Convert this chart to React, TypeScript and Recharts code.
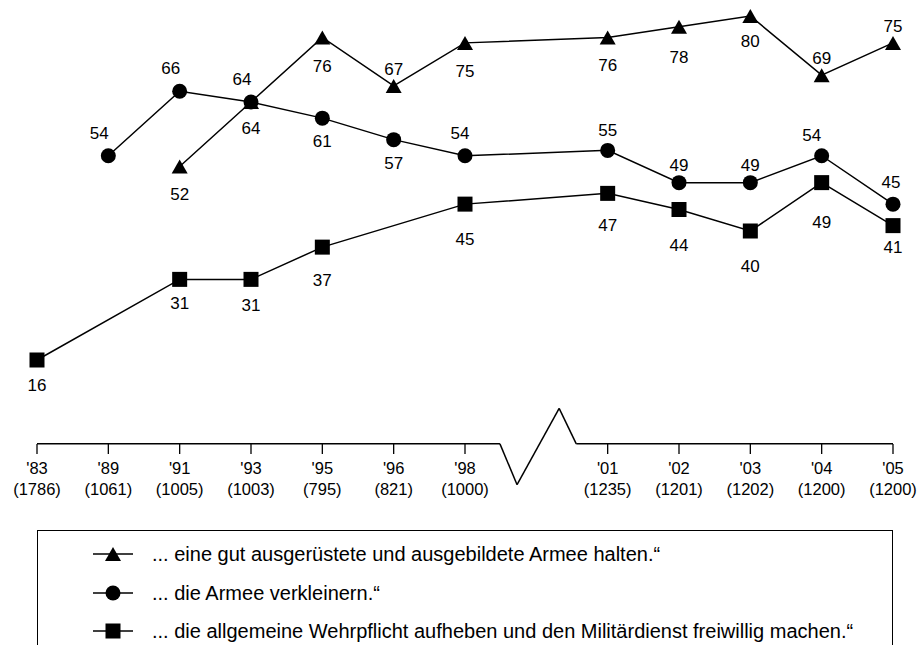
import React from "react";
import { LineChart, Line, XAxis, YAxis, ReferenceLine, LabelList } from "recharts";

// slot 7 is the axis break between '98 and '01
const yearLabels = ["'83", "'89", "'91", "'93", "'95", "'96", "'98", "", "'01", "'02", "'03", "'04", "'05"];
const sampleSizes = ["(1786)", "(1061)", "(1005)", "(1003)", "(795)", "(821)", "(1000)", "", "(1235)", "(1201)", "(1202)", "(1200)", "(1200)"];
const tickSlots = [0, 1, 2, 3, 4, 5, 6, 8, 9, 10, 11, 12];

const armeeHalten = [null, null, 52, 64, 76, 67, 75, null, 76, 78, 80, 69, 75];
const armeeVerkleinern = [null, 54, 66, 64, 61, 57, 54, null, 55, 49, 49, 54, 45];
const wehrpflichtAufheben = [16, null, 31, 31, 37, null, 45, null, 47, 44, 40, 49, 41];

const seriesNames = [
  "... eine gut ausgerüstete und ausgebildete Armee halten.“",
  "... die Armee verkleinern.“",
  "... die allgemeine Wehrpflicht aufheben und den Militärdienst freiwillig machen.“",
];

// label placement (px offsets from the point), kept apart from the values
const triangleDy = [0, 0, 27, 26, 28, -17, 28, 0, 27, 30, 25, -17, -17];
const circleDy = [0, -23, -23, -23, 23, 23, -23, 0, -20, -18, -18, -21, -22];
const circleDx = [0, -9, -9, -9, 0, 0, -5, 0, 0, 0, 0, -10, -2];
const squareDy = [25, 0, 24, 26, 33, 0, 35, 0, 32, 35, 35, 39, 21];

const FONT = "'Liberation Sans', Arial, sans-serif";
const AXIS_Y = 0.4;

type Shape = "triangle" | "circle" | "square";

const toRows = (vals: (number | null)[]) =>
  vals.map((v, i) => ({ slot: i, value: v })).filter((r) => r.value !== null);

const Marker = ({ shape, cx, cy }: { shape: Shape; cx: number; cy: number }) => {
  if (shape === "triangle")
    return <polygon points={`${cx},${cy - 7} ${cx - 8},${cy + 7} ${cx + 8},${cy + 7}`} fill="#000" />;
  if (shape === "circle") return <circle cx={cx} cy={cy} r={7.5} fill="#000" />;
  return <rect x={cx - 7.5} y={cy - 7.5} width={15} height={15} fill="#000" />;
};

const AxisTick = (props: any) => {
  const { x, y, payload } = props;
  const i = payload.value as number;
  return (
    <g>
      <line x1={x} x2={x} y1={y - 2} y2={y + 8} stroke="#000" strokeWidth={1.3} />
      <text x={x} y={y + 28} textAnchor="middle" fontSize={16.5} fontFamily={FONT} fill="#000">
        {yearLabels[i]}
      </text>
      <text x={x} y={y + 49} textAnchor="middle" fontSize={16.5} fontFamily={FONT} fill="#000">
        {sampleSizes[i]}
      </text>
    </g>
  );
};

const series = [
  { name: seriesNames[0], shape: "triangle" as Shape, rows: toRows(armeeHalten), dy: triangleDy, dx: null as number[] | null },
  { name: seriesNames[1], shape: "circle" as Shape, rows: toRows(armeeVerkleinern), dy: circleDy, dx: circleDx },
  { name: seriesNames[2], shape: "square" as Shape, rows: toRows(wehrpflichtAufheben), dy: squareDy, dx: null as number[] | null },
];

const breakSegments = [
  [{ x: 0, y: AXIS_Y }, { x: 6.49, y: AXIS_Y }],
  [{ x: 6.49, y: AXIS_Y }, { x: 6.73, y: -7.2 }],
  [{ x: 6.73, y: -7.2 }, { x: 7.32, y: 7 }],
  [{ x: 7.32, y: 7 }, { x: 7.56, y: AXIS_Y }],
  [{ x: 7.56, y: AXIS_Y }, { x: 12, y: AXIS_Y }],
];

export default function App() {
  return (
    <div style={{ position: "absolute", left: 0, top: 0, width: 920, height: 645, overflow: "hidden", background: "#fff" }}>
      <span style={{ position: "absolute", left: 9, top: -5, fontSize: 16, lineHeight: "16px", fontFamily: FONT, color: "#555" }}>“</span>
      <LineChart width={920} height={645} margin={{ top: 16, right: 27, left: 37, bottom: 139 }}>
        <XAxis
          type="number"
          dataKey="slot"
          domain={[0, 12]}
          ticks={tickSlots}
          interval={0}
          axisLine={false}
          tickLine={false}
          tickSize={0}
          tickMargin={0}
          height={60}
          tick={<AxisTick />}
          allowDuplicatedCategory={false}
        />
        <YAxis type="number" domain={[0, 80]} hide />
        {breakSegments.map((seg, i) => (
          <ReferenceLine key={i} segment={seg} ifOverflow="visible" stroke="#000" strokeWidth={1.5} />
        ))}
        {series.map((s) => (
          <Line
            key={s.shape}
            data={s.rows}
            dataKey="value"
            name={s.name}
            type="linear"
            stroke="#000"
            strokeWidth={1.5}
            isAnimationActive={false}
            dot={(p: any) => <Marker key={`${s.shape}-${p.index}`} shape={s.shape} cx={p.cx} cy={p.cy} />}
            activeDot={false}
          >
            <LabelList
              dataKey="value"
              content={(p: any) => {
                const slot = s.rows[p.index].slot;
                const dx = s.dx ? s.dx[slot] : 0;
                return (
                  <text
                    x={Number(p.x) + dx}
                    y={Number(p.y) + s.dy[slot] + 6}
                    textAnchor="middle"
                    fontSize={17}
                    fontFamily={FONT}
                    fill="#000"
                  >
                    {p.value}
                  </text>
                );
              }}
            />
          </Line>
        ))}
      </LineChart>
      <div
        style={{
          position: "absolute",
          left: 37,
          top: 530,
          width: 856,
          height: 140,
          boxSizing: "border-box",
          border: "1.5px solid #000",
          fontFamily: FONT,
        }}
      >
        {series.map((s, i) => (
          <div key={s.shape} style={{ position: "absolute", left: 0, top: 23 + i * 38.5 - 12, height: 24, display: "flex", alignItems: "center" }}>
            <svg width={40} height={24} style={{ position: "absolute", left: 55 }}>
              <line x1={0} x2={40} y1={12} y2={12} stroke="#000" strokeWidth={1.5} />
              <Marker shape={s.shape} cx={20} cy={12} />
            </svg>
            <span style={{ position: "absolute", left: 114, fontSize: 20, lineHeight: "24px", whiteSpace: "nowrap", color: "#000" }}>
              {s.name}
            </span>
          </div>
        ))}
      </div>
    </div>
  );
}
